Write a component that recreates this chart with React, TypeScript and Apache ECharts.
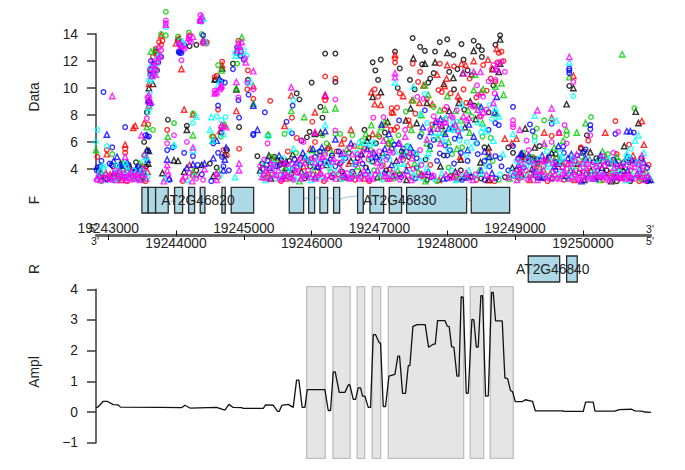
import React, { useEffect, useRef } from "react";
import * as echarts from "echarts";

const FONT = "'Liberation Sans', Arial, sans-serif";
const BASE = 19243000;
const X_MIN = 19242820;
const X_MAX = 19251005;

// Scatter readings: [kb after 19243000, Data value]
const blackCircles = [[.53,6],[.57,8.2],[.88,7.65],[1.16,7.2],[1.75,5.4],[1.93,7.1],[2.78,9.6],[2.82,9.15],[3,10.4],[3.2,12.55],[3.35,12.55],[3.35,10.45],[3.13,8.6],[3.16,7.8],[2.97,6.75],[2.85,6.1],[2.93,6.35],[3.24,5.5],[4.49,13.7],[4.6,13.05],[4.67,12.75],[4.89,13.4],[5,13.6],[4.82,12.7],[5.21,13.25],[5.09,12.45],[5.39,13.5],[5.46,13.1],[5.51,12.8],[5.71,13.2],[5.78,13.9],[5.24,12.1],[5.15,11.4],[5.03,11.2],[4.23,12.7],[4.3,11.45],[4.02,12.1],[3.9,11.9],[3.94,11.3],[3.98,10.6],[4.27,10],[4.63,11.75],[4.75,10.7],[4.72,10.4],[4.45,10.6],[4.52,9.9],[5.36,10.95],[5.61,8.2],[5.51,12.3],[4.8,11.1],[5.3,11.3],[1.84,11.8],[2.06,10.6],[1.03,13.5],[1.3,13.2],[.72,11.3],[6.8,10.15],[6.36,5.7],[5.97,5.2],[7.06,6.5],[6.97,5.5],[5.9,5.6],
[-.14,3.9],[-.04,3.3],[.07,4.2],[.15,3.3],[.22,3.9],[.3,4.3],[.41,4.5],[.5,3.4],[.56,4.2],[1.3,3.9],[1.5,4.4],[1.6,4.1],[2.2,4.95],[2.27,4.4],[2.45,4.9],[2.5,4.6],[2.55,4.7],[2.7,3.6],[2.9,3.3],[3.1,4.1],[3.3,3.4],[3.45,3.8],[3.6,3.4],[3.8,4.1],[3.9,4.55],[4.1,3.9],[4.3,3.6],[4.55,4.1],[4.7,3.2],[5.05,3.5],[5.2,3.9],[5.5,3.3],[5.85,3.4],[6.02,3.9],[6.15,4.7],[6.3,3.5],[6.45,4.6],[6.55,3.3],[6.7,4.1],[6.95,3.7],[7.2,3.4],[7.35,3.9],[7.5,3.1],[7.7,3.1],[7.95,3.1],
[.6,9],[.62,11.3],[.7,12.7],[1.2,13.1],[1.58,10.6],[1.9,12.6],[2.34,4.3],[2.53,4.3],[2.67,4.6],[2.98,4.2],[3.25,4.5],[3.42,4.4],[3.55,5.2],[3.68,4.8],[3.78,6.9],[3.84,6.3],[3.95,5.9],[4.08,6.7],[4.18,5.5],[4.33,5.3],[4.43,4.9],[4.68,4.7],[4.95,5],[5.1,9.9],[5.25,8.4],[5.4,8.7],[5.55,5.6],[5.68,10.2],[6.1,4.9],[6.22,4.8],[6.33,4.4],[6.6,5.1],[7.02,5.3],[7.2,4.8],[7.42,4.4],[7.68,4.5],[7.86,4.8]];
const blackTriangles = [[.6,10],[.57,5.4],[.6,5.35],[1.16,6.9],[.97,4.65],[1.03,4.6],[1.68,11.45],[1.57,10.65],[1.89,9.9],[3.2,9.45],[3.13,6.7],[3.05,6.6],[4.5,12.2],[5,12.6],[5.39,12.75],[4.67,11.8],[5.09,10.75],[4.82,11.9],[5.23,11.1],[5.76,11.2],[4.02,9.7],[3.9,9.35],[4.39,7.6],[4.46,8.5],[5.34,9],[5.26,7.1],[5.61,5.6],[5.67,11.4],[5.78,11.8],[5.78,13.6],[4.7,8.9],[4.95,10.3],[6.86,10],[6.76,8.8],[7.78,8.25],[7.82,7.4],[6.15,7],[6.54,5.2],[6.29,5.6],[7.61,5.7],[7.11,5.25],
[-.1,3.7],[.05,3.4],[.18,4.4],[.35,3.6],[.47,3.3],[.59,4.4],[.8,3.7],[1.12,3.8],[1.38,4.3],[1.55,3.5],[2.24,3.9],[2.4,3.3],[2.62,4.1],[2.85,3.8],[3.05,3.4],[3.22,4.3],[3.5,3.4],[3.72,3.7],[3.97,3.4],[4.2,3.5],[4.4,3.2],[4.62,3.6],[4.9,4.2],[5.12,3.8],[5.35,3.5],[5.62,3.2],[5.96,4.1],[6.1,3.6],[6.25,4],[6.38,3.4],[6.62,4.4],[6.82,3.9],[7.02,3.2],[7.12,3.9],[7.28,4.1],[7.42,3.1],[7.6,3.9],[7.8,3.6],[7.97,3.2],
[.66,10.3],[1.72,5.1],[2.37,5],[2.62,4.6],[2.72,5.1],[3.58,4.6],[3.74,5.1],[3.82,6.1],[4.05,5.2],[4.12,7.5],[4.25,4.6],[4.55,7.4],[4.92,7.2],[5.03,8.3],[5.17,8.9],[5.2,4.7],[5.42,7.7],[5.49,4.5],[6.27,4.7],[6.48,4.7],[6.66,4.6],[6.92,4.4],[7.22,4.6],[7.56,4.2]];
const redCircles = [[-.16,4.9],[.25,5.5],[.25,5.2],[-.02,5.4],[1.68,11.95],[.87,6.9],[.59,7.3],[1.57,10.8],[1.45,13.3],[1.4,13.3],[1.03,13.6],[.8,13.5],[.78,13.2],[.72,12.5],[1.62,8.4],[1.55,6.4],[1.7,5.4],[1.75,5],[1.93,5.5],[2.06,11.3],[2.14,9.2],[2.39,9.05],[2.78,6.3],[2.71,7.8],[3.2,10.85],[3.35,10.7],[3.2,9.1],[3.01,7.5],[3.05,6],[4.23,12.2],[4.23,11.9],[4.49,11.8],[4.6,11.2],[4.57,10.45],[4.89,11.8],[4.87,9.85],[5.53,11.7],[5.64,10.7],[5.71,10.45],[5.76,12.6],[5.8,12.7],[4.3,9.6],[3.93,9.9],[3.98,9.35],[4.92,9.7],[5.24,9.9],[4.18,8.5],[4.18,8.15],[4.26,8.55],[4.26,7.1],[4.17,6.9],[4.35,4.7],[4.15,4],[7.48,7.55],[6.54,6.45],[7.08,6.1],[7.68,5.8],[7.97,4.3],[7.5,5.1],[6.97,5.6],
[-.12,3.4],[.12,3.5],[.28,3.1],[.44,3.7],[.55,3.1],[1.1,3.1],[1.3,3.5],[1.62,3.4],[2.3,3.3],[2.55,3.1],[2.75,3.9],[2.98,4.7],[3.18,3.1],[3.4,3.6],[3.64,3.2],[3.85,3.1],[4.05,4.3],[4.48,3.4],[4.75,4.3],[5.18,3.3],[5.43,3.2],[5.7,3.1],[6.04,3.4],[6.32,4.2],[6.48,3.1],[6.72,3.2],[6.94,4.4],[7.3,3.2],[7.55,3.3],[7.83,3.1],
[.6,8.9],[.66,12.3],[.7,12.9],[.75,13.4],[1.2,13.9],[1.45,13.4],[1.6,10.9],[1.92,13.5],[2.05,9.9],[2.44,4.7],[2.58,4.4],[2.65,5.3],[2.84,4.8],[3.12,5],[3.37,5.3],[3.48,6.2],[3.63,5.7],[3.78,5.5],[3.84,4.7],[4.0,6.4],[4.13,5.9],[4.22,6.9],[4.4,5.3],[4.43,7.6],[4.53,8.1],[4.7,9.2],[4.78,7.3],[4.96,8.4],[5.05,9.6],[5.1,11.6],[5.18,9.1],[5.28,8.9],[5.33,10.7],[5.43,9.3],[5.48,7.9],[5.58,9.8],[5.66,11.4],[5.74,11.9],[5.83,12],[6.12,5],[6.28,4.8],[6.4,4.6],[6.62,4.8],[7.02,4.6],[7.33,4.7],[7.6,4.5]];
const redTriangles = [[-.02,5.1],[.25,5.8],[.37,7.05],[.4,7.2],[.53,7.4],[.6,10.3],[.6,8.7],[.78,13.9],[.72,12.6],[1.08,11.4],[1.12,8.4],[1.25,8.05],[1.68,11.7],[1.89,8.3],[2.14,10.15],[2.6,7.2],[2.7,9.45],[3.05,8.2],[3.2,9.4],[3.05,6.7],[5,11.7],[5.21,11.8],[5.39,12],[4.23,12.45],[4.78,8.8],[4.96,10.15],[4.45,7.3],[5.85,6.25],[5.61,5.25],[5.19,4.9],[3.93,8.8],[4.02,8.75],[3.88,9.7],[4.65,10.2],[1.41,13.5],[1.2,4.3],[1.7,7.2],[1.25,3.6],
[6.86,10.9],[6.54,7.8],[6.43,6.7],[7.33,6.7],[7.87,7.55],[7.9,5.8],[7.74,5],[6.02,6.25],[5.95,5.9],[6.65,6.7],
[.03,3.6],[.2,3.2],[.33,4.1],[.5,4.2],[.58,3.8],[2.35,3.7],[2.62,3.3],[2.88,4.2],[3.12,3.7],[3.55,4.4],[3.78,3.3],[4.12,3.3],[4.42,4.3],[4.65,3.5],[4.88,3.2],[5.08,3.5],[5.3,3.6],[5.6,3.2],[6.08,3.7],[6.22,3.2],[6.42,3.9],[6.88,3.2],[7.05,4.1],[7.4,3.7],[7.62,3.4],[7.9,3.7],
[.64,11.5],[1,13.3],[1.05,13.7],[1.65,6.8],[2.98,5.5],[3.26,5.7],[3.44,5.9],[3.58,6.9],[3.9,6.6],[4.09,7.3],[4.2,8.2],[4.35,9.4],[4.48,9.1],[4.59,8.9],[4.85,11],[4.99,10.7],[5.16,9.4],[5.27,11.7],[5.5,9.7],[5.6,12.1],[5.73,12.9],[6.14,4.9],[6.48,4.8],[6.78,4.4],[7.1,4.7],[7.44,4.5]];
const greenCircles = [[.06,5.1],[-.1,3.1],[.97,7.4],[.78,14],[.85,15.65],[1.25,8.1],[1.19,14.1],[1.03,13.8],[.66,6.9],[1.53,6.4],[2.36,6.5],[2.6,6.6],[3.16,6.5],[3.35,6.6],[4.39,8.25],[5.64,6.3],[5.07,5.1],[7.12,7.85],[7.76,8.5],[6.43,7.6],[6.32,7],[6.29,6.4],[6.76,6.5],[6.43,5.7],[7.37,5.1],[.85,13.9],[1.9,11.8],
[-.05,3.6],[.17,3.8],[.38,3.4],[.52,3.2],[2.42,3.6],[2.68,3.3],[2.95,3.6],[3.28,3.8],[3.62,3.7],[3.92,3.9],[4.22,3.3],[4.58,3.7],[4.85,3.1],[5.02,4.1],[5.28,3.4],[5.76,3.2],[6.06,3.3],[6.35,4.1],[6.64,3.4],[6.9,3.9],[7.17,3.5],[7.44,3.6],[7.7,3.9],[7.93,3.7],
[.7,12.8],[1.38,14],[1.62,11.7],[1.66,6.4],[2.4,4.9],[2.77,5.2],[3.08,5.2],[3.22,5.9],[3.42,6.6],[3.6,6.5],[3.75,6.1],[3.87,5.4],[4.1,6.2],[4.28,6.5],[4.41,5.7],[4.54,5.1],[4.62,6.6],[4.8,8.6],[4.97,7.7],[5.12,7.1],[5.22,5.6],[5.36,7.9],[5.52,6.4],[5.67,4.6],[6.12,5.2],[6.25,4.9],[6.6,4.8],[6.98,4.9],[7.24,4.7],[7.52,4.6],[7.76,4.6]];
const greenTriangles = [[-.18,5.4],[.57,7.1],[.63,12.7],[.88,6.4],[1.25,6.5],[.54,5.15],[1.97,13.75],[1.89,10],[1.72,7.3],[1.54,6.1],[1.67,11.3],[2.14,8.85],[2.36,6.55],[2.7,8.3],[2.89,7.85],[3,5.4],[3.2,8.4],[3.35,8.5],[5.39,9.85],[5.53,9.9],[5.71,10.1],[5.8,10.35],[4.67,10.2],[4.5,9.1],[4.72,9.5],[5,9.4],[4.89,8.35],[5.12,8.3],[5.31,8.35],[5.46,8.7],[5.73,8.1],[5.83,9.5],[5.41,11],[4.62,8],[4.08,7.5],[4.03,7.1],[3.88,7.25],[4.19,6.1],[4.47,6.9],[4.74,5.5],[4.87,6.25],[5.14,5.5],[4.52,4.4],[6.8,10.8],[7.58,12.5],[6.76,6.9],[7.04,7.4],[6.91,6.7],[6.58,5.6],[6.71,6.1],[7.29,5.3],
[.13,3.4],[.33,3.9],[.46,3.5],[1.25,3.8],[1.62,3.9],[2.33,3.5],[2.6,4],[2.82,3.1],[3.03,3.9],[3.42,3.3],[3.68,4.2],[4.01,3.4],[4.27,3.9],[4.68,3.1],[5.15,3.3],[5.47,3.9],[5.92,3.3],[6.18,3.6],[6.52,3.7],[6.78,3.3],[7.08,3.6],[7.25,3.2],[7.52,3.9],[7.86,3.3],
[.22,4.5],[.46,4.4],[.65,10.9],[1.4,13.6],[1.63,10.7],[2.47,4.8],[2.93,4.7],[3.18,5.3],[3.3,5.2],[3.52,5.5],[3.72,5.7],[3.8,6.6],[3.98,6.6],[4.14,5.9],[4.33,5.1],[4.7,5.9],[4.8,7],[4.94,6.7],[5.02,6],[5.2,7.6],[5.33,6.7],[5.52,7.4],[5.6,4.9],[6.3,4.6],[6.7,4.5],[7.34,4.9],[7.5,4.9]];
const blueCircles = [[-.07,9.7],[.06,5.6],[.25,7.1],[.55,6.5],[.59,9],[1.25,4.95],[1.12,5.2],[.87,5.4],[.95,5.6],[.05,4.3],[-.16,4.1],[1.32,4.3],[.63,12],[1.05,12.6],[1.04,12.7],[1.4,13.9],[1.62,8.7],[1.67,6.7],[1.67,10.5],[1.84,11.4],[1.93,7.8],[1.92,9.1],[2.31,8.2],[2.07,9.5],[2.14,6.6],[2.14,6.5],[2.63,7.5],[2.71,6.65],[2.72,8.7],[3.2,4.6],[3.3,5],[5.71,7.4],[5.61,6.9],[5.76,7.25],[4.29,7.6],[4.67,8.35],[4.6,6.4],[4.8,6.15],[5.11,6.25],[5.44,5.9],[4.97,5.75],[5.71,4.95],[5.78,4.8],[5.04,5.4],[4.89,5.15],[6.8,11.45],[6.8,11.1],[6.8,11.3],[5.97,8.6],[6.22,7.3],[6.26,6.8],[6.54,7.35],[7.11,7.25],[7.11,6.95],[7.75,6.7],[7.48,6.6],[7.04,5.45],[6.71,5.65],[5.97,5.7],
[-.17,3.9],[-.02,3.2],[.1,3.7],[.24,3.4],[.4,3.9],[.52,3.7],[.9,3.2],[1.38,3.6],[1.52,3.1],[2.28,4],[2.5,4.2],[2.72,4],[2.92,3.5],[3.13,4.4],[3.35,4.2],[3.6,3.8],[3.75,4.4],[4.08,3.7],[4.32,3.4],[4.53,3.3],[4.77,3.4],[5,3.3],[5.22,3.2],[5.35,3.4],[5.55,3.2],[5.72,3.3],[5.98,3.5],[6.13,4.1],[6.28,3.8],[6.42,3.3],[6.6,3.9],[6.84,4.6],[7.05,3.6],[7.22,3.9],[7.38,4.4],[7.56,3.6],[7.72,3.3],[7.92,3.2],
[-.12,4.2],[-.1,4.6],[.02,4.4],[.17,4.2],[.31,4.1],[.44,4.2],[.58,5.3],[.6,6.4],[.62,11],[.68,11.8],[.74,11.9],[.78,12.3],[1.07,13.1],[1.08,12.6],[1.12,13.2],[1.55,5.9],[1.62,5.2],[1.68,4.9],[1.72,10.4],[1.7,4.2],[1.78,3.9],[1.9,13],[1.95,12.4],[2,12.1],[2.35,4.6],[2.47,4.2],[2.6,4.4],[2.75,4.7],[2.83,4.3],[2.95,4.6],[3.05,4.9],[3.12,5.3],[3.28,4.7],[3.4,5.3],[3.5,4.8],[3.65,4.5],[3.72,5],[3.88,4.8],[4,4.7],[4.12,4.9],[4.22,5.8],[4.35,5.5],[4.5,5.2],[4.55,4.8],[4.75,5.7],[4.85,4.6],[5,5],[5.1,4.4],[5.2,5.2],[5.3,4.6],[5.45,5.1],[5.55,4.6],[5.62,4.2],[5.8,4.2],[5.9,3.9],[6.05,4.8],[6.2,4.5],[6.32,4.7],[6.5,4.9],[6.6,4.5],[6.72,5.2],[6.92,5],[7,5.2],[7.15,4.5],[7.3,4.6],[7.45,4.7],[7.6,4.4],[7.78,4.5],[7.95,4.1]];
const blueTriangles = [[-.02,6.55],[.13,4.9],[.57,6.5],[.6,9.1],[.65,11.7],[.87,4.7],[1.25,4.35],[1.16,4.1],[.9,3.3],[1.42,4.4],[1.55,4.8],[1.7,3.9],[1.72,4.7],[2.14,8.7],[2.2,6.9],[2.9,4.9],[3.2,6.8],[3.35,6.2],[3.02,5.5],[5.73,9.35],[4.03,7.3],[4.76,6.75],[5.02,7],[5.39,6.4],[4.9,7.7],[5.3,5.4],[5.55,5.3],[3.92,5.2],[4.08,5.5],[4.36,5.1],[6.83,5.1],[7.65,6.8],[7.7,6.8],[6.64,5.7],[6.1,5.15],[7.9,4.5],[7.65,4.9],[6.2,5],
[-.13,3.5],[.2,4.3],[.48,4],[2.38,4.1],[2.58,3.5],[2.78,4.5],[3.08,4.2],[3.48,3.6],[3.83,3.9],[4.18,4.3],[4.4,3.9],[4.72,3.8],[4.94,3.3],[5.25,3.4],[5.5,3.9],[5.66,3.7],[6.05,4.3],[6.34,3.4],[6.58,4.2],[6.75,3.5],[6.98,3.1],[7.18,3.3],[7.32,3.7],[7.48,3.4],[7.66,3.9],[7.84,4],[8,3.2],
[.08,4.6],[.28,4.5],[.42,4.1],[.58,4.7],[.62,8.9],[.66,11.2],[1.06,12.8],[1.6,6.1],[1.64,10.7],[1.74,5.6],[2.52,5],[2.87,5.2],[3.15,5.6],[3.44,5.1],[3.58,5.9],[3.82,5.5],[3.96,4.9],[4.14,6.6],[4.28,5.9],[4.46,5.6],[4.64,7.1],[4.83,7.5],[4.97,6.6],[5.08,7.1],[5.18,6.5],[5.32,7.3],[5.5,8.6],[5.62,4.9],[5.7,8.2],[6.08,5.1],[6.4,5],[6.78,4.8],[7.04,4.8],[7.26,5],[7.5,4.4],[7.72,4.7]];
const cyanCircles = [[-.16,6.9],[-.18,6],[-.02,5.7],[.59,8.2],[.25,4.4],[.63,10.5],[.97,5.7],[1.25,7.4],[1.67,7.6],[1.73,7.85],[1.09,13.3],[.7,11.2],[2.36,6.4],[2.73,9.1],[2.68,6.8],[3.05,4.5],[4.67,9.55],[5.46,8.3],[5.63,8.75],[5.14,7.5],[4.7,7.4],[4.97,6],[5.29,6],[4.7,4.8],[4.57,4.15],[1.4,15],[.85,14.5],[6.86,9.4],[6.54,7.6],[6.29,6.1],[7.71,5.5],[6.66,5.2],[6.47,5.3],[1.87,12.6],[2.06,10.3],
[-.15,3.4],[.08,3.2],[.22,3.6],[.36,3.3],[.49,3.9],[.58,3.4],[1.27,3.5],[1.65,3.5],[2.25,3.6],[2.48,3.3],[2.66,3.7],[2.86,3.5],[3.08,3.3],[3.26,4],[3.44,3.3],[3.7,3.5],[3.88,3.4],[4.05,3.2],[4.25,4.1],[4.46,3.7],[4.63,3.3],[4.82,3.2],[5.06,3.9],[5.24,3.5],[5.41,3.4],[5.58,4.2],[5.78,3.6],[5.95,3.8],[6.12,3.4],[6.26,4.4],[6.44,3.5],[6.68,3.7],[6.86,3.5],[7,4.2],[7.16,3.7],[7.34,3.3],[7.54,3.8],[7.74,3.5],[7.9,3.5],
[-.06,4.1],[.12,4.3],[.27,4.2],[.38,3.9],[.53,4.6],[.61,9.6],[.67,10.9],[.72,11.8],[.76,12.3],[1.06,13.5],[1.1,13.2],[1.37,14.9],[1.6,7.9],[1.65,10.4],[1.93,12.9],[2,12.8],[2.04,12.4],[2.3,4.5],[2.44,4.4],[2.58,4.8],[2.8,4.2],[3,4.4],[3.1,4.7],[3.3,4.4],[3.5,5],[3.66,5.2],[3.78,5.9],[3.86,4.6],[4.02,4.4],[4.15,4.7],[4.31,4.4],[4.4,5.1],[4.55,5.2],[4.8,6.4],[4.92,6.1],[5.02,5.4],[5.18,6.1],[5.28,5],[5.42,5.9],[5.5,6.7],[5.66,7.7],[6.02,4.6],[6.18,4.7],[6.36,4.8],[6.52,4.6],[6.68,4.4],[6.85,4.8],[6.9,4.5],[7.08,4.7],[7.28,4.6],[7.44,4.4],[7.68,4.9],[7.84,4.4]];
const cyanTriangles = [[-.08,4.3],[.1,3.2],[.56,4.9],[.62,11.6],[.6,8.6],[.97,5.8],[1.25,5.4],[1.4,15.2],[1.3,7.9],[1.52,7.85],[1.5,6.9],[1.54,6.1],[1.7,6.6],[1.87,3.4],[2.73,5.5],[3.2,7.25],[4.23,10.4],[4.5,10.1],[4.98,7.8],[5.09,7.6],[5.21,8.8],[5.71,8.5],[5.76,7.9],[5.53,7.1],[4.6,8.1],[5.1,6.9],[3.92,6],[6.8,11.9],[6.29,7.95],[6.61,7.6],[7.82,6.5],[7.77,6.1],[7.9,5.2],[7.65,5.15],[5.97,6.6],
[.29,3.9],[.43,3.3],[.55,3.7],[.83,3.3],[1.17,3.2],[2.32,3.2],[2.54,3.7],[2.76,3.3],[2.99,3.2],[3.16,3.5],[3.36,3.8],[3.58,3.5],[3.81,3.7],[4,3.7],[4.16,3.6],[4.36,4.4],[4.52,3.5],[4.7,4.1],[4.92,3.7],[5.13,3.2],[5.32,3.9],[5.52,3.7],[6.01,3.6],[6.17,4.3],[6.33,3.7],[6.5,4.4],[6.66,4.8],[6.84,4.2],[6.8,3.6],[7.1,3.3],[7.26,3.6],[7.45,3.9],[7.64,3.2],[7.82,3.8],[7.98,3.5],
[-.12,3.9],[.15,4],[.33,3.6],[.6,10.7],[.66,11.5],[.73,12.4],[1.1,13.4],[1.44,13.4],[1.62,10.2],[1.88,12.4],[1.98,12.6],[2.1,10.5],[2.42,4.3],[2.68,4.2],[2.92,4.9],[3.22,4.5],[3.46,4.7],[3.62,4.4],[3.7,6],[3.86,5.9],[4.07,5],[4.24,5.3],[4.42,5.7],[4.61,4.6],[4.72,5.2],[4.88,6.7],[5.05,7],[5.2,7],[5.35,5.6],[5.45,7.5],[5.58,6.8],[5.68,6.1],[5.82,5.1],[6.08,4.5],[6.24,4.6],[6.46,4.2],[6.7,4.9],[7.02,4.5],[7.2,4.4],[7.38,4.8],[7.62,4.6],[7.8,4.5]];
const magentaCircles = [[.57,7.75],[.59,8.9],[.53,5],[.97,6.5],[1.16,6],[.87,5.9],[.85,15],[.85,14.8],[.68,11.7],[.75,13],[1.04,13.3],[1.08,12.05],[1.19,13.8],[1.36,15.4],[1.4,13.4],[1.2,13.5],[1.57,9.8],[1.67,10],[1.67,7.1],[1.92,13.3],[1.92,9.3],[2.14,9.9],[2.35,5.9],[2.85,6.1],[2.88,6],[3.35,9.15],[3.35,6.85],[4.56,9.35],[4.65,9.2],[5.61,10.5],[5.71,10.6],[5.76,11.8],[5.68,11.7],[5.8,11.95],[5.85,11.2],[5.53,9.35],[5.46,9.5],[5.44,10.2],[4.99,8.6],[5.14,8.35],[4.8,7.9],[4.85,7.55],[3.91,7.8],[4.06,7.85],[4.38,6.9],[4.6,5.4],[6.86,10.45],[6.73,7.25],[5.97,7.6],[5.97,7.3],[5.97,7.1],[6.65,6.7],[7.11,6.5],[7.52,6.75],[7.29,4.95],[7.45,5.2],[6.54,6],[6.76,5.9],[6.17,6.1],[6.2,5.4],
[-.17,3.2],[-.14,3.5],[-.08,3.3],[0,3.5],[.04,3.2],[.1,3.9],[.14,3.6],[.19,3.3],[.23,3.7],[.27,3.4],[.32,3.6],[.36,3.2],[.4,3.5],[.44,3.3],[.49,3.5],[.53,4],[.89,3.5],[1.14,3.4],[1.2,3.7],[1.3,3.3],[1.4,3.2],[1.6,3.6],[2.24,4.2],[2.29,3.6],[2.35,3.4],[2.41,3.9],[2.48,3.5],[2.53,3.2],[2.6,3.6],[2.65,3.4],[2.73,3.2],[2.8,3.7],[2.87,3.4],[2.95,3.9],[3.02,3.6],[3.1,3.5],[3.15,4.2],[3.23,3.5],[3.32,3.6],[3.38,4.5],[3.45,3.4],[3.52,3.7],[3.58,3.3],[3.65,4.3],[3.72,3.4],[3.79,3.6],[3.86,3.2],[3.94,3.6],[4.03,4.2],[4.1,3.4],[4.2,3.7],[4.3,3.2],[4.42,3.5],[4.5,4],[4.68,3.6],[4.8,3.5],[5.04,3.3],[5.16,3.7],[5.3,3.3],[5.42,3.6],[5.66,3.3],[6,3.7],[6.06,4.1],[6.1,3.4],[6.16,3.9],[6.22,3.4],[6.3,3.9],[6.36,3.6],[6.42,4.2],[6.5,3.5],[6.56,3.8],[6.62,3.3],[6.7,3.6],[6.76,4],[6.83,3.4],[6.88,3.6],[6.95,3.2],[7,3.5],[7.06,3.9],[7.12,3.3],[7.18,3.6],[7.24,3.4],[7.3,3.6],[7.36,3.3],[7.42,3.5],[7.48,3.6],[7.54,3.3],[7.6,3.6],[7.66,3.5],[7.7,3.4],[7.76,4.1],[7.82,3.4],[7.88,3.9],[7.94,3.4],
[.58,9.3],[.62,11.4],[.66,11.9],[.7,11.4],[.74,12.2],[.78,12.8],[1.05,13.2],[1.13,12.9],[1.22,13.4],[1.35,15],[1.58,9.6],[1.66,9.9],[1.92,13],[1.96,12.7],[2.02,12.2],[2.05,10.4],[2.3,4.7],[2.44,4.3],[2.56,4.5],[2.7,4.4],[2.82,4.7],[3,4.8],[3.12,4.8],[3.2,5.1],[3.3,4.5],[3.44,4.5],[3.56,5.6],[3.68,5.1],[3.76,5.3],[3.9,5.2],[4,5.3],[4.1,4.7],[4.2,5.2],[4.33,4.9],[4.46,5.1],[4.62,4.3],[4.75,6.9],[4.9,7.2],[4.98,7.4],[5.08,7.8],[5.16,6.8],[5.28,7.6],[5.38,8.6],[5.5,7.9],[5.58,8.4],[5.7,9.6],[5.74,11.3],[6.04,4.7],[6.2,4.6],[6.34,4.5],[6.46,4.6],[6.6,4.3],[6.74,4.5],[6.88,4.6],[7,4.4],[7.14,4.3],[7.26,4.3],[7.36,4.5],[7.5,4.2],[7.64,4.3],[7.74,4.6],[7.88,4.4]];
const magentaTriangles = [[.06,9.4],[.25,4.9],[.49,6.5],[.87,4.3],[1.25,5.6],[.87,3.9],[1.42,4],[1.6,3.7],[.85,14.7],[.66,11.1],[.7,11],[1.36,15.1],[1.36,15],[1.4,13.5],[1.08,13.1],[1.57,9.6],[1.67,10.2],[1.67,7.25],[1.74,7.1],[1.89,10.45],[1.93,3.9],[1.93,4.4],[1.97,13.4],[2.14,11.25],[2.7,10.05],[3.2,9.5],[3.05,6.7],[5.39,11.2],[5.24,11.1],[5.49,11.2],[5.72,11.4],[4.23,11.1],[4.23,10.8],[4.38,6.4],[4.3,5.9],[4.9,5.9],[5.05,8],[5.35,8.8],[6.8,12.3],[6.33,8.35],[6.54,8.5],[6.07,6.9],[6.43,5.9],[7.87,5],[6.91,5.1],
[-.16,3.3],[-.11,3.2],[-.03,3.7],[.02,3.3],[.08,3.5],[.12,3.2],[.16,3.8],[.21,3.5],[.26,3.2],[.31,3.4],[.34,3.8],[.39,3.3],[.43,3.6],[.47,3.2],[.51,3.6],[.56,3.3],[.82,3.1],[1.1,3.3],[1.24,3.1],[1.6,3.2],[2.27,3.4],[2.33,3.9],[2.38,3.3],[2.45,3.6],[2.51,3.9],[2.57,3.3],[2.63,3.6],[2.7,3.4],[2.77,3.8],[2.84,3.3],[2.91,3.6],[2.99,3.4],[3.06,3.3],[3.14,3.7],[3.2,3.3],[3.28,3.5],[3.36,3.3],[3.43,4],[3.5,3.5],[3.56,3.3],[3.63,3.6],[3.7,3.3],[3.77,3.9],[3.84,3.4],[3.9,3.3],[3.97,3.9],[4.07,3.5],[4.15,3.3],[4.24,3.5],[4.35,3.6],[4.47,3.2],[4.6,3.6],[4.78,3.5],[4.98,3.6],[5.1,3.4],[5.28,3.7],[5.38,3.2],[5.58,3.6],[5.9,3.4],[6.03,3.2],[6.08,3.8],[6.19,3.3],[6.27,3.6],[6.33,3.2],[6.39,3.8],[6.46,3.4],[6.53,3.3],[6.59,3.6],[6.66,3.3],[6.73,3.7],[6.8,3.3],[6.86,3.8],[6.92,3.3],[6.98,3.7],[7.03,3.3],[7.09,3.5],[7.15,3.3],[7.21,3.6],[7.27,3.4],[7.33,3.5],[7.39,3.2],[7.45,3.4],[7.51,3.5],[7.58,3.4],[7.63,3.3],[7.68,3.7],[7.73,3.3],[7.8,3.7],[7.85,3.5],[7.91,3.2],[7.96,3.5],
[.6,9.5],[.63,9],[.64,10.9],[.68,11.4],[.72,12],[.77,12.4],[1.1,13.1],[1.18,13.7],[1.25,13.8],[1.38,15.3],[1.6,9.7],[1.65,10.1],[1.9,12.8],[1.94,13.1],[2.03,11.9],[2.4,4.4],[2.62,4.4],[2.78,4.2],[2.9,4.5],[3.05,4.5],[3.16,4.9],[3.32,4.8],[3.47,5.2],[3.6,5.1],[3.72,4.7],[3.85,5.1],[3.97,4.5],[4.06,6.1],[4.15,5.4],[4.3,4.7],[4.48,4.8],[4.7,6.2],[4.86,7],[4.96,7.5],[5.12,7.3],[5.24,7.9],[5.32,7.8],[5.45,8.4],[5.53,8.2],[5.68,8.9],[6.1,4.4],[6.28,4.4],[6.42,4.7],[6.56,4.5],[6.7,4.2],[6.82,4.4],[6.96,4.1],[7.06,4.4],[7.2,4.2],[7.32,4.3],[7.46,4.1],[7.56,4.3],[7.72,4.2],[7.82,4.4]];

const scatterSeries = [
  ["#000000", blackCircles, blackTriangles],
  ["#FF0000", redCircles, redTriangles],
  ["#00CD00", greenCircles, greenTriangles],
  ["#0000FF", blueCircles, blueTriangles],
  ["#00FFFF", cyanCircles, cyanTriangles],
  ["#FF00FF", magentaCircles, magentaTriangles],
] as const;

// Exons, forward strand and reverse strand [start, end] in bp
const forwardExons = [[19243497,19243590],[19243590,19243699],[19243699,19243885],[19243979,19244097],[19244186,19244274],[19244357,19244426],[19244677,19244726],[19244814,19245145],[19245670,19245882],[19245956,19246044],[19246122,19246236],[19246324,19246413],[19246678,19246761],[19246860,19247062],[19247145,19247327],[19247401,19248286],[19248354,19248920]];
const reverseExons = [[19249195,19249658],[19249761,19249917]];
const forwardIntrons = [
  [[19243885,0.5],[19243930,0.45],[19243979,0.5]],
  [[19245882,0.5],[19245920,0.6],[19245956,0.5]],
  [[19246044,0.5],[19246085,0.62],[19246122,0.5]],
  [[19246236,0.5],[19246280,0.6],[19246324,0.5]],
  [[19246413,0.52],[19246520,0.62],[19246678,0.66]],
  [[19248286,0.56],[19248320,0.5],[19248354,0.46]],
];
const geneLabels = [[19244323,0.5,"AT2G46820"],[19247298,0.5,"AT2G46830"]];
const reverseLabels = [[19249556,0.5,"AT2G46840"]];

// Shaded regions of the amplitude panel [start, end] in bp
const shadedRegions = [[19245926,19246200],[19246314,19246569],[19246672,19246782],[19246894,19247018],[19247130,19248242],[19248339,19248537],[19248634,19248973]];
const SHADE_TOP = 4.085;
const SHADE_BOTTOM = -1.51;

// Amplitude line [bp, value]
const amplitude = [[19242818,.14],[19242853,.17],[19242926,.35],[19242985,.35],[19243074,.24],[19243147,.23],[19243182,.16],[19243762,.15],[19244082,.14],[19244131,.22],[19244205,.13],[19244598,.15],[19244721,.065],[19244780,.25],[19244844,.15],[19244967,.14],[19244991,.12],[19245286,.12],[19245321,.23],[19245434,.22],[19245498,.02],[19245522,.02],[19245561,.22],[19245655,.25],[19245729,.15],[19245778,1.04],[19245812,1.04],[19245861,.15],[19245901,.15],[19245935,.73],[19246196,.73],[19246245,.05],[19246279,.05],[19246319,1.31],[19246348,1.31],[19246407,.64],[19246491,.64],[19246540,.88],[19246564,.88],[19246614,.41],[19246648,.41],[19246687,.79],[19246722,.79],[19246751,.52],[19246786,.52],[19246835,.15],[19246869,.15],[19246909,2.52],[19246943,2.52],[19246997,2.26],[19247017,2.24],[19247056,.18],[19247090,.18],[19247140,1.17],[19247228,1.23],[19247272,1.82],[19247297,1.82],[19247341,.61],[19247385,.61],[19247425,1.51],[19247449,1.51],[19247494,2.79],[19247558,2.85],[19247675,2.85],[19247725,2.11],[19247793,2.21],[19247823,2.21],[19247857,2.98],[19247966,2.98],[19248000,2.8],[19248029,2.78],[19248064,2.13],[19248098,2.11],[19248143,1.17],[19248172,1.17],[19248206,3.76],[19248236,3.74],[19248280,.61],[19248310,.61],[19248364,3.02],[19248393,3],[19248428,2.12],[19248457,2.12],[19248496,3.79],[19248521,3.79],[19248565,.52],[19248605,.52],[19248654,3.9],[19248678,3.9],[19248713,2.97],[19248811,2.97],[19248850,1.11],[19248890,1.09],[19248934,.7],[19248963,.67],[19249003,.34],[19249111,.34],[19249150,.4],[19249258,.35],[19249298,.04],[19249711,.04],[19249721,.02],[19250006,.02],[19250040,.32],[19250153,.32],[19250178,.03],[19250473,.03],[19250537,.08],[19250718,.09],[19250768,.04],[19250866,.03],[19250915,0],[19251004,-.01]];

const dataTicks = [4, 6, 8, 10, 12, 14];
const amplTicks = [-1, 0, 1, 2, 3, 4];
const upperGenomeTicks = [19243000, 19245000, 19247000, 19249000];
const lowerGenomeTicks = [19244000, 19246000, 19248000, 19250000];
const ink = "#222222";

const rectSeries = (name: string, grid: number, data: number[][], y0: number, y1: number, fill: string, stroke: string, width: number, z: number) => ({
  name, type: "custom", xAxisIndex: grid, yAxisIndex: grid, clip: false, z, silent: true,
  data,
  renderItem: (_p: any, api: any) => {
    const a = api.coord([api.value(0), y1]);
    const b = api.coord([api.value(1), y0]);
    return { type: "rect", shape: { x: a[0], y: a[1], width: b[0] - a[0], height: b[1] - a[1] }, style: { fill, stroke, lineWidth: width } };
  },
});

const textSeries = (grid: number, data: any[]) => ({
  type: "custom", xAxisIndex: grid, yAxisIndex: grid, clip: false, z: 8, silent: true,
  encode: { x: 0, y: 1 },
  data,
  renderItem: (_p: any, api: any) => {
    const item = data[_p.dataIndex];
    const c = api.coord([item[0], item[1]]);
    return { type: "text", x: c[0], y: c[1], style: { text: item[2], fill: ink, font: `13.8px ${FONT}`, textAlign: "center", textVerticalAlign: "middle" } };
  },
});

export default function App() {
  const ref = useRef<HTMLDivElement>(null);
  useEffect(() => {
    const chart = echarts.init(ref.current!, undefined, { renderer: "svg" });
    const grids = [
      { left: 96, width: 555, top: 34, height: 135 },
      { left: 96, width: 555, top: 187.3, height: 25.7 },
      { left: 96, width: 555, top: 235, height: 0.5 },
      { left: 96, width: 555, top: 256, height: 26 },
      { left: 96, width: 555, top: 289.3, height: 153.4 },
    ];
    const hiddenX = (i: number) => ({ type: "value", gridIndex: i, min: X_MIN, max: X_MAX, show: false });
    const label = { fontFamily: FONT, fontSize: 13.8, color: ink };
    const genomeAxis = (position: string, ticks: number[], margin: number) => ({
      type: "value", gridIndex: 2, min: X_MIN, max: X_MAX, position,
      axisLine: { show: true, onZero: false, lineStyle: { color: "#666666", width: 2 } },
      axisTick: { show: true, inside: true, length: 5, customValues: ticks, lineStyle: { color: "#111111", width: 1 } },
      axisLabel: { ...label, margin, customValues: ticks, formatter: (v: number) => String(v), hideOverlap: false, showMinLabel: true, showMaxLabel: true },
      splitLine: { show: false },
    });
    const yAxis = (i: number, min: number, max: number, ticks: number[]) => ({
      type: "value", gridIndex: i, min, max,
      axisLine: { show: true, onZero: false, lineStyle: { color: "#3a3a3a", width: 1.5 } },
      axisTick: { show: true, length: 9, customValues: ticks, lineStyle: { color: "#3a3a3a", width: 1.5 } },
      axisLabel: { ...label, margin: 18, customValues: ticks, formatter: (v: number) => String(v).replace("-", "\u2212") },
      splitLine: { show: false },
    });
    const hiddenY = (i: number) => ({ type: "value", gridIndex: i, min: 0, max: 1, show: false });

    const points: any[] = [];
    scatterSeries.forEach(([color, circles, triangles]) => {
      const style = { color: "transparent", borderColor: color, borderWidth: 1.4 };
      const toBp = (list: readonly (readonly number[])[]) => list.map(([k, v]) => [BASE + k * 1000, v]);
      points.push({ type: "scatter", xAxisIndex: 0, yAxisIndex: 0, clip: false, silent: true, symbol: "circle", symbolSize: 4.6, itemStyle: style, data: toBp(circles), z: 3 });
      points.push({ type: "scatter", xAxisIndex: 0, yAxisIndex: 0, clip: false, silent: true, symbol: "triangle", symbolSize: 5.4, itemStyle: style, data: toBp(triangles), z: 3 });
    });

    const endText = (text: string, x: number, y: number) => ({ type: "text", x, y, style: { text, fill: ink, font: `10.5px ${FONT}`, textAlign: "center", textVerticalAlign: "middle" } });
    const sideText = (text: string, y: number) => ({ type: "text", x: 34, y, rotation: Math.PI / 2, style: { text, fill: ink, font: `13.8px ${FONT}`, textAlign: "center", textVerticalAlign: "middle" } });

    chart.setOption({
      animation: false,
      backgroundColor: "#ffffff",
      grid: grids,
      xAxis: [hiddenX(0), hiddenX(1), genomeAxis("top", upperGenomeTicks, 0), hiddenX(3), hiddenX(4), genomeAxis("bottom", lowerGenomeTicks, 1)],
      yAxis: [yAxis(0, 4, 14, dataTicks), hiddenY(1), hiddenY(2), hiddenY(3), yAxis(4, -1, 4, amplTicks)],
      series: [
        ...points,
        ...forwardIntrons.map((d) => ({ type: "line", xAxisIndex: 1, yAxisIndex: 1, data: d, smooth: true, symbol: "none", silent: true, z: 4, lineStyle: { color: "#B0D0DE", width: 1.2 } })),
        rectSeries("forward", 1, forwardExons, 0, 1, "#ADD8E6", "#2b2b2b", 1.3, 5),
        textSeries(1, geneLabels),
        rectSeries("reverse", 3, reverseExons, 0, 1, "#ADD8E6", "#2b2b2b", 1.3, 5),
        textSeries(3, reverseLabels),
        rectSeries("shade", 4, shadedRegions, SHADE_BOTTOM, SHADE_TOP, "#E5E5E5", "#BEBEBE", 1.3, 1),
        { type: "line", xAxisIndex: 4, yAxisIndex: 4, data: amplitude, symbol: "none", silent: true, z: 6, lineStyle: { color: "#111111", width: 1.3 } },
      ],
      graphic: [
        endText("5'", 93, 228), endText("3'", 95, 241), endText("3'", 650, 229), endText("5'", 650, 241),
        sideText("Data", 97), sideText("F", 200), sideText("R", 269), sideText("Ampl", 372),
      ],
    });
    return () => chart.dispose();
  }, []);
  return <div ref={ref} style={{ position: "fixed", left: 0, top: 0, width: 685, height: 470 }} />;
}
